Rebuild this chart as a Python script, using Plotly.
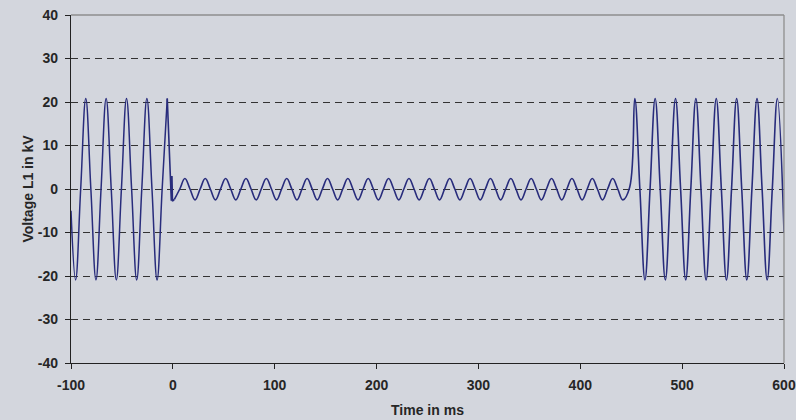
import plotly.graph_objects as go

# ---- data (time in ms, voltage in kV) ----
pre_t = [-100, -95.5, -90.5, -85.5, -80.5, -75.5, -70.5, -65.5, -60.5, -55.5,
         -50.5, -45.5, -40.5, -35.5, -30.5, -25.5, -20.5, -15.5, -10.5, -5.5]
pre_v = [-5.0, -20.9, 0, 20.8, 0, -20.9, 0, 20.8, 0, -20.9,
         0, 20.8, 0, -20.9, 0, 20.8, 0, -20.9, 0, 20.8]

fault_t = [-5.5, -1.5, -0.9, -0.4, 1.5]
fault_v = [20.8, -2.7, 3.0, -2.8, -2.4]

during_t = [1.5,
            6.8, 11.8, 16.8, 21.8, 26.8, 31.8, 36.8, 41.8, 46.8, 51.8,
            56.8, 61.8, 66.8, 71.8, 76.8, 81.8, 86.8, 91.8, 96.8, 101.8,
            106.8, 111.8, 116.8, 121.8, 126.8, 131.8, 136.8, 141.8, 146.8, 151.8,
            156.8, 161.8, 166.8, 171.8, 176.8, 181.8, 186.8, 191.8, 196.8, 201.8,
            206.8, 211.8, 216.8, 221.8, 226.8, 231.8, 236.8, 241.8, 246.8, 251.8,
            256.8, 261.8, 266.8, 271.8, 276.8, 281.8, 286.8, 291.8, 296.8, 301.8,
            306.8, 311.8, 316.8, 321.8, 326.8, 331.8, 336.8, 341.8, 346.8, 351.8,
            356.8, 361.8, 366.8, 371.8, 376.8, 381.8, 386.8, 391.8, 396.8, 401.8,
            406.8, 411.8, 416.8, 421.8, 426.8, 431.8, 436.8, 441.8,
            448.5]
during_v = [-2.4,
            0, 2.4, 0, -2.5, 0, 2.4, 0, -2.5, 0, 2.4,
            0, -2.5, 0, 2.4, 0, -2.5, 0, 2.4, 0, -2.5,
            0, 2.4, 0, -2.5, 0, 2.4, 0, -2.5, 0, 2.4,
            0, -2.5, 0, 2.4, 0, -2.5, 0, 2.4, 0, -2.5,
            0, 2.4, 0, -2.5, 0, 2.4, 0, -2.5, 0, 2.4,
            0, -2.5, 0, 2.4, 0, -2.5, 0, 2.4, 0, -2.5,
            0, 2.4, 0, -2.5, 0, 2.4, 0, -2.5, 0, 2.4,
            0, -2.5, 0, 2.4, 0, -2.5, 0, 2.4, 0, -2.5,
            0, 2.4, 0, -2.5, 0, 2.4, 0, -2.5,
            0.4]

post_t = [453.5, 458.5, 463.5, 468.5, 473.5, 478.5, 483.5, 488.5, 493.5, 498.5,
          503.5, 508.5, 513.5, 518.5, 523.5, 528.5, 533.5, 538.5, 543.5, 548.5,
          553.5, 558.5, 563.5, 568.5, 573.5, 578.5, 583.5, 588.5, 593.5, 600]
post_v = [20.8, 0, -20.9, 0, 20.8, 0, -20.9, 0, 20.8, 0,
          -20.9, 0, 20.8, 0, -20.9, 0, 20.8, 0, -20.9, 0,
          20.8, 0, -20.9, 0, 20.8, 0, -20.9, 0, 20.8, -10.0]

x_ticks = [-100, 0, 100, 200, 300, 400, 500, 600]
x_tick_labels = ["-100", "0", "100", "200", "300", "400", "500", "600"]
y_ticks = [-40, -30, -20, -10, 0, 10, 20, 30, 40]
y_tick_labels = ["-40", "-30", "-20", "-10", "0", "10", "20", "30", "40"]

x_title = "Time in ms"
y_title = "Voltage L1 in kV"

# ---- styling ----
LINE = "#282c7c"
BG = "#d3d6dd"
TXT = "#262626"
FONT = "Liberation Sans"
FS = 14

fig = go.Figure()
fig.add_trace(go.Scatter(x=pre_t, y=pre_v, mode="lines",
                         line=dict(color=LINE, width=1.5, shape="spline", smoothing=1.15),
                         hoverinfo="skip", showlegend=False))
fig.add_trace(go.Scatter(x=fault_t, y=fault_v, mode="lines",
                         line=dict(color=LINE, width=1.6),
                         hoverinfo="skip", showlegend=False))
fig.add_trace(go.Scatter(x=during_t + post_t, y=during_v + post_v, mode="lines",
                         line=dict(color=LINE, width=1.6, shape="spline", smoothing=1.15),
                         hoverinfo="skip", showlegend=False))

fig.update_layout(
    width=796, height=420,
    margin=dict(l=71, r=12, t=15, b=57),
    paper_bgcolor=BG, plot_bgcolor=BG,
    font=dict(family=FONT, size=FS, color=TXT),
    showlegend=False,
)

fig.update_xaxes(
    range=[-100, 600], tickvals=x_ticks, ticktext=x_tick_labels,
    automargin=False,
    showgrid=False, zeroline=False,
    showline=True, linecolor="#222222", linewidth=1.3,
    ticks="outside", ticklen=5, tickcolor="#222222", tickwidth=1.3,
    ticklabelstandoff=4,
    tickfont=dict(family=FONT, size=FS, color=TXT, weight="bold"),
    title=dict(text=x_title, font=dict(family=FONT, size=FS, color=TXT, weight="bold"), standoff=13),
)
fig.update_yaxes(
    range=[-40, 40], tickvals=y_ticks, ticktext=y_tick_labels,
    automargin=False,
    showgrid=True, gridcolor="#333333", gridwidth=1, griddash="7px,5px",
    zeroline=False,
    showline=True, linecolor="#222222", linewidth=1.3,
    ticks="outside", ticklen=5, tickcolor="#222222", tickwidth=1.3,
    ticklabelstandoff=4,
    tickfont=dict(family=FONT, size=FS, color=TXT, weight="bold"),
    title=dict(text=y_title, font=dict(family=FONT, size=FS, color=TXT, weight="bold"), standoff=0),
)

# light grey frame on top and right
fig.add_shape(type="line", xref="paper", yref="paper", x0=0, x1=1, y0=1, y1=1,
              line=dict(color="#8e8e8e", width=1.3), layer="above")
fig.add_shape(type="line", xref="paper", yref="paper", x0=1, x1=1, y0=0, y1=1,
              line=dict(color="#8e8e8e", width=1.3), layer="above")

fig.write_html(
    "out.html",
    config={"displayModeBar": False},
    post_script="document.body.style.margin='0';document.body.style.background='%s';" % BG,
)
